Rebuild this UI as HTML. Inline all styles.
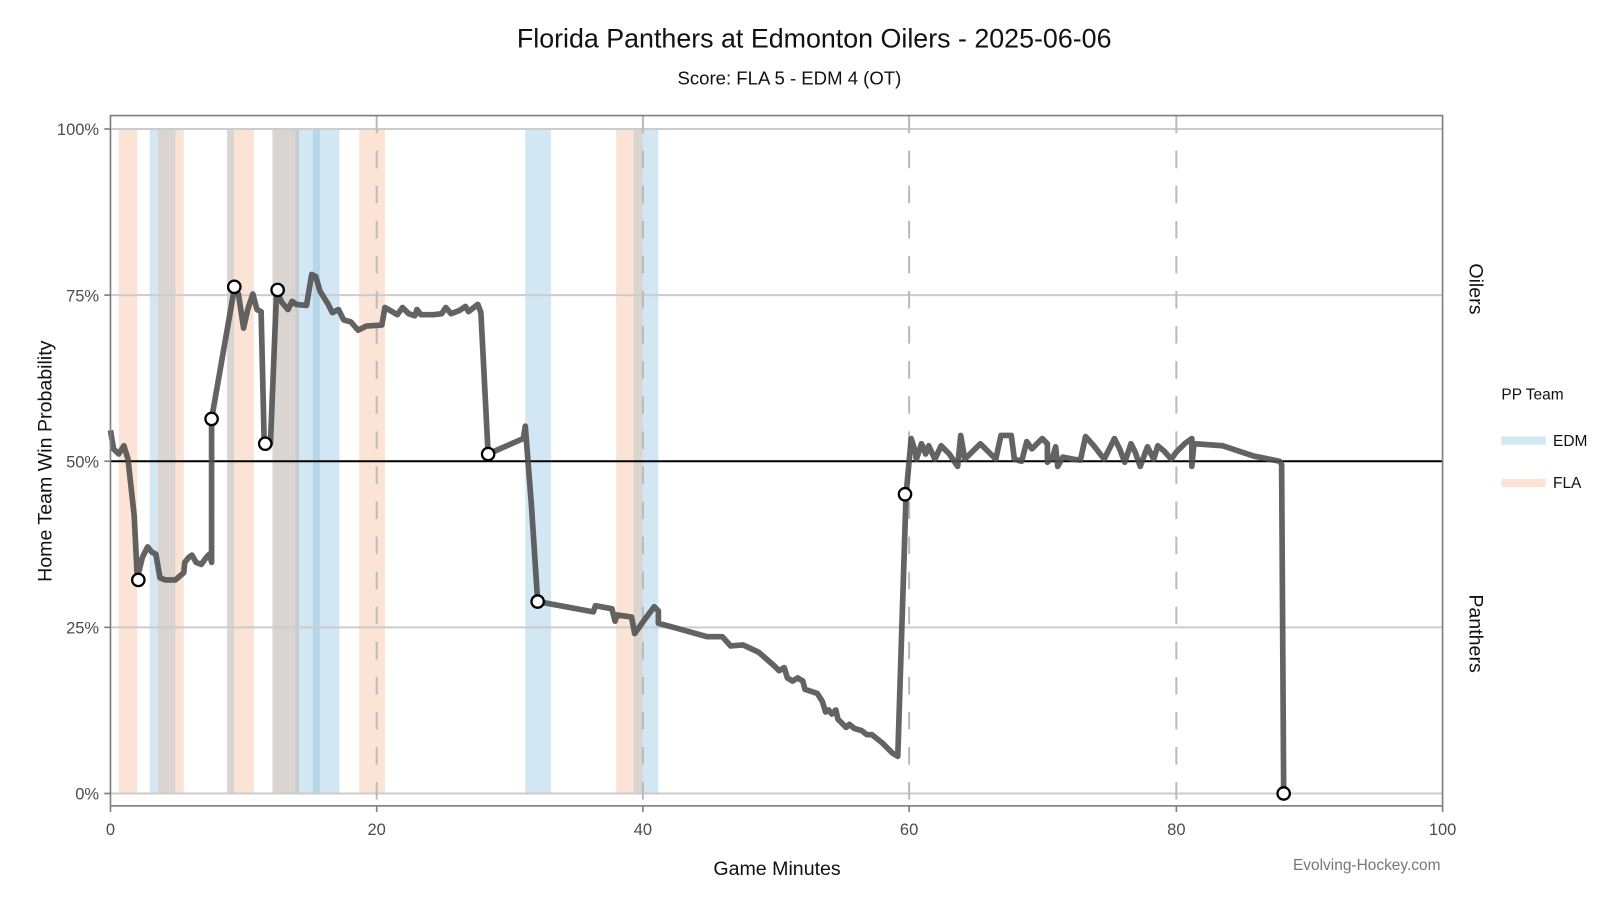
<!DOCTYPE html>
<html><head><meta charset="utf-8"><style>
html,body{margin:0;padding:0;background:#fff;}
svg{display:block;font-family:"Liberation Sans","DejaVu Sans",sans-serif;}
</style></head><body>
<svg width="1616" height="907" viewBox="0 0 1566 879" xmlns="http://www.w3.org/2000/svg">
<rect width="1566" height="879" fill="#fff"/>
<g>
<rect x="115" y="125" width="18" height="644" fill="#fbe4d5"/>
<rect x="145" y="125" width="8" height="644" fill="#d3e6f3"/>
<rect x="153" y="125" width="17" height="644" fill="#dad5d0"/>
<rect x="170" y="125" width="8" height="644" fill="#fbe4d5"/>
<rect x="220" y="125" width="7" height="644" fill="#dad5d0"/>
<rect x="227" y="125" width="19" height="644" fill="#fbe4d5"/>
<rect x="264" y="125" width="22" height="644" fill="#dad5d0"/>
<rect x="286" y="125" width="4" height="644" fill="#c5cdd1"/>
<rect x="290" y="125" width="13" height="644" fill="#d3e6f3"/>
<rect x="303" y="125" width="7" height="644" fill="#b5d7ea"/>
<rect x="310" y="125" width="19" height="644" fill="#d3e6f3"/>
<rect x="348" y="125" width="25" height="644" fill="#fbe4d5"/>
<rect x="509" y="125" width="25" height="644" fill="#d3e6f3"/>
<rect x="597" y="125" width="17" height="644" fill="#fbe4d5"/>
<rect x="614" y="125" width="9" height="644" fill="#dad5d0"/>
<rect x="623" y="125" width="15" height="644" fill="#d3e6f3"/>
</g>
<g stroke="#cccccc" stroke-width="2">
<line x1="107" x2="1398" y1="125" y2="125"/>
<line x1="107" x2="1398" y1="286" y2="286"/>
<line x1="107" x2="1398" y1="608" y2="608"/>
<line x1="107" x2="1398" y1="769" y2="769"/>
</g>
<g stroke="#bbbbbb" stroke-width="2" stroke-dasharray="17,17">
<line x1="365" x2="365" y1="112" y2="781"/>
<line x1="623" x2="623" y1="112" y2="781"/>
<line x1="881" x2="881" y1="112" y2="781"/>
<line x1="1140" x2="1140" y1="112" y2="781"/>
</g>
<line x1="107" x2="1398" y1="447" y2="447" stroke="#000" stroke-width="2"/>
<polyline fill="none" stroke="#4d4d4d" stroke-opacity="0.88" stroke-width="5.5" stroke-linejoin="round" points="107,417 110,435 115,440 120,432 124,445 130,500 133,560 138,540 143,530 147,535 151,537 155,560 160,562 170,562 178,555 179,545 183,540 186,538 190,545 195,547 200,540 203,537 205,545 205,406 227,280 231,285 236,318 240,300 245,285 249,300 253,302 256,430 262,430 268,282 273,293 279,300 283,292 287,295 297,296 302,266 306,268 310,282 318,295 322,303 328,300 333,310 340,312 347,320 355,316 370,315 373,298 380,302 385,305 390,298 396,304 402,306 404,300 408,305 420,305 428,304 432,298 437,304 445,301 451,297 454,302 463,295 466,303 473,440 507,425 509,413 515,490 521,583 575,593 577,587 593,590 596,602 598,596 612,598 615,614 625,600 634,588 638,592 638,604 660,610 685,617 700,617 708,626 720,625 735,632 750,645 755,650 760,647 763,657 768,660 773,657 778,660 780,668 792,672 797,680 800,690 803,688 806,692 810,688 812,697 815,700 820,705 823,702 828,706 835,708 840,712 845,712 855,720 865,730 870,733 878,480 883,425 887,438 888,445 893,430 897,440 900,432 906,445 912,432 920,440 928,452 931,422 935,445 940,440 950,430 960,440 965,445 970,422 980,422 983,445 990,447 995,428 1000,435 1010,425 1015,430 1015,448 1020,443 1023,433 1025,452 1030,443 1040,445 1047,446 1052,423 1060,432 1070,445 1080,425 1085,435 1090,448 1096,430 1100,438 1105,452 1112,433 1118,445 1122,432 1128,437 1135,445 1140,438 1148,430 1155,425 1155,452 1157,430 1185,432 1215,442 1240,447 1242,450 1244,769"/>
<g fill="#fff" stroke="#000" stroke-width="2.2">
<circle cx="134" cy="562" r="6"/><circle cx="205" cy="406" r="6"/><circle cx="227" cy="278" r="6"/>
<circle cx="257" cy="430" r="6"/><circle cx="269" cy="281" r="6"/><circle cx="473" cy="440" r="6"/>
<circle cx="521" cy="583" r="6"/><circle cx="877" cy="479" r="6"/><circle cx="1244" cy="769" r="6"/>
</g>
<rect x="107" y="112" width="1291" height="669" fill="none" stroke="#7f7f7f" stroke-width="1.6"/>
<g stroke="#7f7f7f" stroke-width="1.6">
<line x1="101" x2="107" y1="125" y2="125"/><line x1="101" x2="107" y1="286" y2="286"/>
<line x1="101" x2="107" y1="447" y2="447"/><line x1="101" x2="107" y1="608" y2="608"/>
<line x1="101" x2="107" y1="769" y2="769"/>
<line x1="107" x2="107" y1="781" y2="787"/><line x1="365" x2="365" y1="781" y2="787"/>
<line x1="623" x2="623" y1="781" y2="787"/><line x1="881" x2="881" y1="781" y2="787"/>
<line x1="1140" x2="1140" y1="781" y2="787"/><line x1="1398" x2="1398" y1="781" y2="787"/>
</g>
<g font-size="16" fill="#4d4d4d" text-anchor="end">
<text x="96" y="131">100%</text><text x="96" y="292">75%</text><text x="96" y="453">50%</text>
<text x="96" y="614">25%</text><text x="96" y="775">0%</text>
</g>
<g font-size="16" fill="#4d4d4d" text-anchor="middle">
<text x="107" y="809">0</text><text x="365" y="809">20</text><text x="623" y="809">40</text>
<text x="881" y="809">60</text><text x="1140" y="809">80</text><text x="1398" y="809">100</text>
</g>
<text x="789" y="46" font-size="26" text-anchor="middle" fill="#111">Florida Panthers at Edmonton Oilers - 2025-06-06</text>
<text x="765" y="82" font-size="18" text-anchor="middle" fill="#111">Score: FLA 5 - EDM 4 (OT)</text>
<text x="753" y="848" font-size="19" text-anchor="middle" fill="#111">Game Minutes</text>
<text x="1396" y="843" font-size="15" text-anchor="end" fill="#777">Evolving-Hockey.com</text>
<text transform="translate(50,447) rotate(-90)" font-size="19" text-anchor="middle" fill="#111">Home Team Win Probability</text>
<text transform="translate(1424,280) rotate(90)" font-size="19" text-anchor="middle" fill="#111">Oilers</text>
<text transform="translate(1424,614) rotate(90)" font-size="19" text-anchor="middle" fill="#111">Panthers</text>
<text x="1455" y="387" font-size="15" fill="#111">PP Team</text>
<rect x="1455" y="423" width="43" height="8" fill="#d3e6f3"/>
<text x="1505" y="432" font-size="15" fill="#111">EDM</text>
<rect x="1455" y="464" width="43" height="8" fill="#fbe4d5"/>
<text x="1505" y="473" font-size="15" fill="#111">FLA</text>
</svg>
</body></html>
